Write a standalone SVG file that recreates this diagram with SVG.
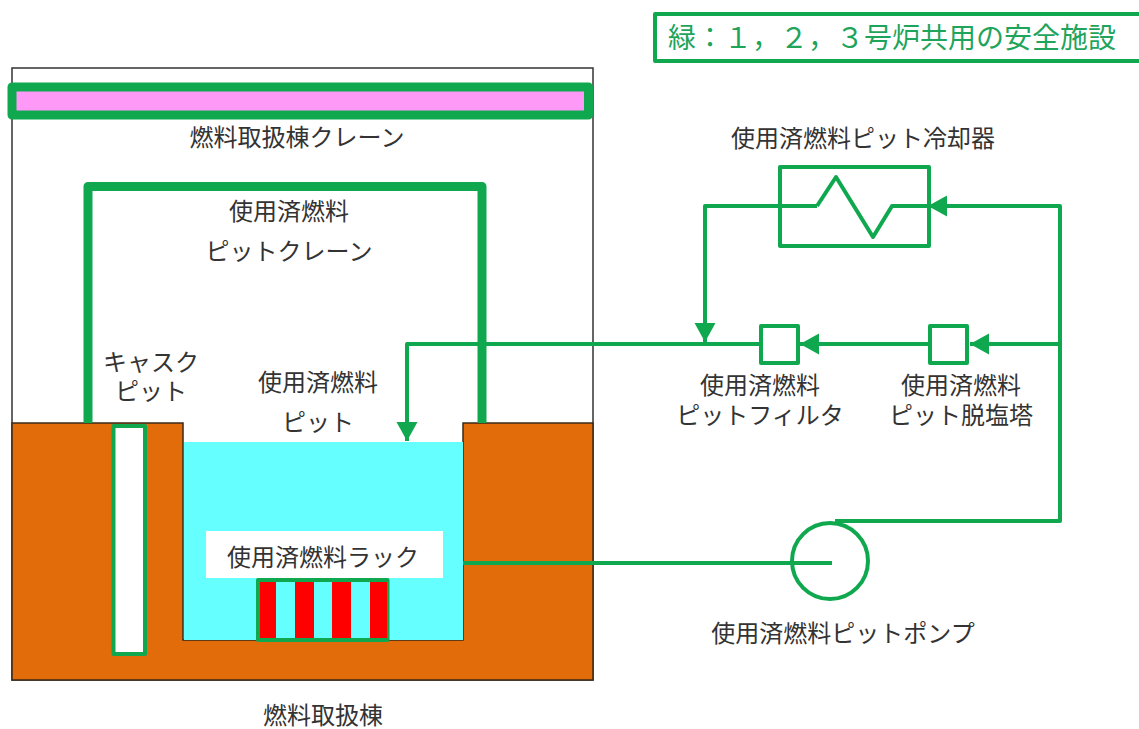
<svg xmlns="http://www.w3.org/2000/svg" width="1139" height="729" viewBox="0 0 1139 729">
<style>
text{font-family:"Liberation Sans","Noto Sans CJK JP",sans-serif;font-size:24px;fill:#333;text-anchor:middle}
.g{stroke:#0fa84f;stroke-linejoin:round}
.n{fill:none}
.w{fill:#fff}
.p{stroke-width:4}
.h{stroke-width:9}
.water{fill:#66ffff}
.legend{text-anchor:start;font-size:28px;fill:#1fa45c}
</style>
<defs>
<marker id="a" markerUnits="userSpaceOnUse" markerWidth="24" markerHeight="24" refX="19" refY="12" orient="auto"><path d="M0 1.500L19 12L0 22.500Z" fill="#0fa84f"/></marker>
</defs>
<rect width="1139" height="729" fill="#fff"/>
<g id="building">
<rect x="12" y="68" width="581" height="612" fill="#fff" stroke="#333" stroke-width="1.5"/>
<path d="M12 423H183V640H463V423H593V680H12Z" fill="#e36c0a" stroke="#3a2a1a" stroke-width="1.5"/>
<text x="323" y="724">燃料取扱棟</text>
</g>
<g id="fuel-crane">
<rect x="12" y="87" width="576.500" height="28" fill="#ff99f8" class="g h"/>
<text x="297" y="146">燃料取扱棟クレーン</text>
</g>
<g id="pit-crane">
<path d="M88 423V186.500H482V423" class="g h n"/>
<text x="289" y="220">使用済燃料</text>
<text x="289" y="260">ピットクレーン</text>
</g>
<g id="cask-pit">
<rect x="113.500" y="426" width="31.500" height="228" class="g w" stroke-width="4"/>
<text x="151" y="371">キャスク</text>
<text x="151" y="400">ピット</text>
</g>
<g id="spent-fuel-pit">
<rect x="184" y="442" width="279" height="198" class="water"/>
<text x="318" y="391">使用済燃料</text>
<text x="318" y="431">ピット</text>
</g>
<g id="rack">
<rect x="206" y="531" width="237" height="47" fill="#fff"/>
<text x="323" y="566">使用済燃料ラック</text>
<rect x="258" y="580" width="129.500" height="60" class="g water" stroke-width="4"/>
<path d="M260 582h16v56h-16zM295 582h19v56h-19zM332 582h19v56h-19zM370 582h17v56h-17z" fill="#f00"/>
</g>
<g id="connectors">
<path d="M463 563H832" class="g p n"/>
<path d="M835 521H1060V206H928" class="g p n" marker-end="url(#a)"/>
<path d="M1060 344H970" class="g p n" marker-end="url(#a)"/>
<path d="M928 344H800" class="g p n" marker-end="url(#a)"/>
<path d="M761 344H407V441" class="g p n" marker-end="url(#a)"/>
<path d="M817 206H705V342" class="g p n" marker-end="url(#a)"/>
</g>
<g id="cooler">
<rect x="780" y="167" width="149" height="79" class="g p n"/>
<path d="M817 206L836 177L873 237L892 206H930" class="g p n"/>
<text x="863" y="147">使用済燃料ピット冷却器</text>
</g>
<g id="filter">
<rect x="761" y="326" width="37" height="37" class="g p w"/>
<text x="760" y="394">使用済燃料</text>
<text x="760" y="424">ピットフィルタ</text>
</g>
<g id="demineralizer">
<rect x="930" y="326" width="37" height="37" class="g p w"/>
<text x="961" y="394">使用済燃料</text>
<text x="961" y="424">ピット脱塩塔</text>
</g>
<g id="pump">
<circle cx="830" cy="561" r="38" class="g p n"/>
<text x="843" y="642">使用済燃料ピットポンプ</text>
</g>
<g id="legend">
<rect x="655" y="14" width="490" height="47" class="g w" stroke-width="4"/>
<text x="668" y="48" class="legend">緑&#xFF1A;&#xFF11;&#xFF0C;&#xFF12;&#xFF0C;&#xFF13;号炉共用の安全施設</text>
</g>
</svg>
